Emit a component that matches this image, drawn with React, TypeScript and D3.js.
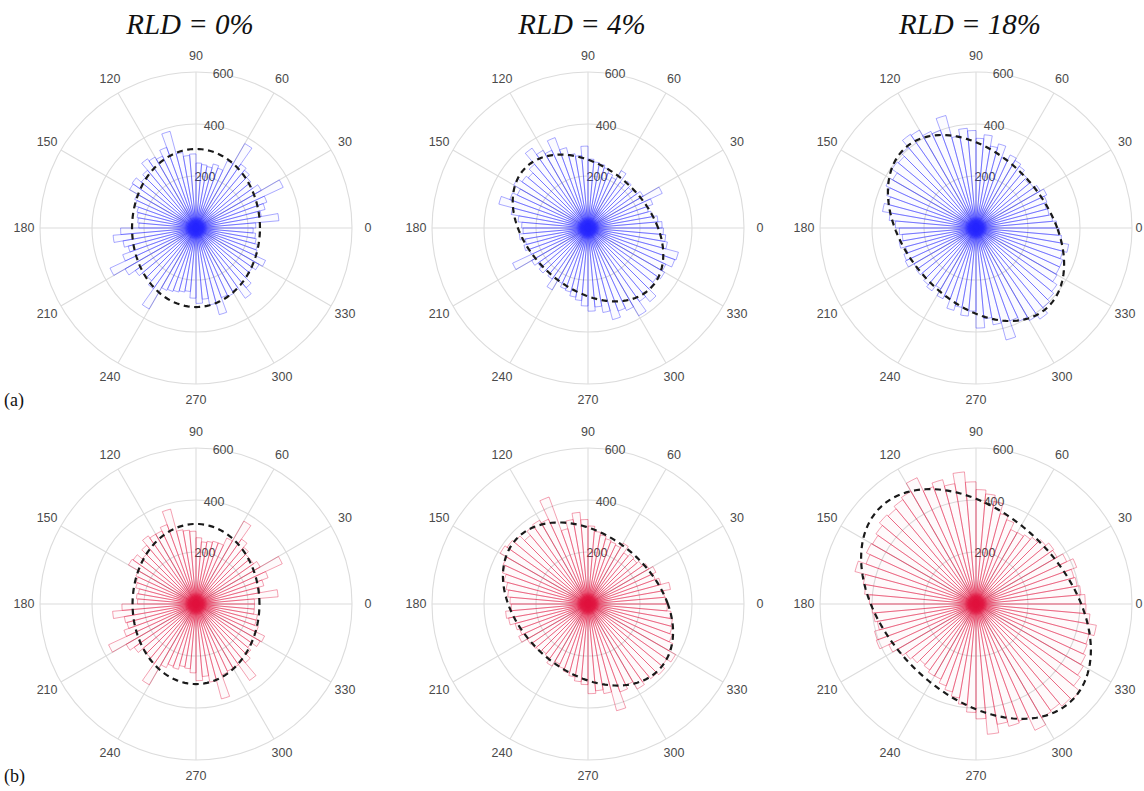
import React from "react";
import * as d3 from "d3";

const thetaTicks = [0, 30, 60, 90, 120, 150, 180, 210, 240, 270, 300, 330];
const rTicks = [0, 200, 400, 600];
const titles = ["RLD = 0%", "RLD = 4%", "RLD = 18%"];
const rowLabels = ["(a)", "(b)"];

// 72 bins of 5 degrees, bin i covers [5i, 5i+5] degrees (counter-clockwise from east)
const blueRLD0 = [230, 320, 255, 275, 290, 370, 290, 265, 275, 290, 300, 375, 285, 245, 255, 240, 245, 250,
  285, 280, 295, 385, 330, 305, 315, 325, 290, 275, 300, 295, 260, 250, 235, 230, 225, 220,
  290, 320, 285, 270, 300, 365, 315, 285, 270, 265, 285, 360, 265, 260, 255, 250, 245, 270,
  290, 275, 300, 345, 285, 290, 280, 330, 300, 270, 265, 280, 295, 250, 245, 235, 230, 220];
const blueRLD4 = [285, 270, 250, 240, 265, 315, 245, 230, 220, 235, 215, 255, 215, 225, 240, 250, 255, 265,
  315, 280, 290, 320, 370, 330, 345, 375, 320, 300, 310, 330, 300, 320, 355, 300, 270, 255,
  250, 265, 245, 255, 240, 320, 250, 235, 245, 230, 240, 275, 235, 250, 255, 270, 280, 300,
  320, 305, 330, 365, 340, 350, 390, 345, 370, 330, 325, 340, 330, 355, 360, 310, 300, 290];
const blueRLD18 = [310, 295, 285, 280, 290, 300, 285, 270, 265, 275, 290, 300, 310, 290, 335, 320, 360, 345,
  375, 385, 360, 448, 400, 410, 435, 440, 405, 390, 395, 370, 382, 365, 350, 365, 335, 310,
  295, 285, 300, 280, 295, 300, 275, 280, 270, 285, 295, 270, 300, 290, 328, 310, 340, 320,
  385, 350, 378, 446, 380, 395, 411, 428, 400, 390, 380, 360, 355, 355, 345, 362, 330, 320];
const redRLD0 = [225, 317, 250, 270, 295, 366, 285, 270, 270, 285, 305, 368, 280, 250, 250, 245, 240, 255,
  280, 285, 290, 378, 325, 310, 310, 320, 295, 270, 295, 300, 255, 245, 240, 225, 230, 225,
  285, 322, 280, 275, 295, 371, 310, 290, 265, 270, 280, 359, 270, 255, 260, 245, 250, 265,
  295, 280, 305, 378, 290, 285, 285, 359, 295, 275, 260, 285, 291, 255, 240, 240, 225, 225];
const redRLD4 = [300, 295, 322, 290, 275, 288, 270, 255, 245, 250, 240, 270, 250, 255, 260, 270, 280, 300,
  325, 354, 330, 300, 438, 360, 372, 365, 345, 370, 380, 390, 360, 350, 335, 320, 310, 300,
  295, 318, 310, 290, 280, 294, 270, 265, 260, 250, 255, 276, 255, 265, 275, 285, 300, 310,
  345, 335, 350, 425, 360, 345, 378, 365, 375, 385, 370, 389, 360, 345, 335, 330, 320, 305];
const redRLD18 = [420, 405, 395, 390, 412, 385, 360, 365, 350, 335, 325, 318, 316, 345, 360, 400, 425, 440,
  470, 510, 470, 495, 480, 536, 500, 490, 478, 485, 470, 460, 465, 450, 482, 440, 430, 410,
  400, 395, 385, 404, 408, 370, 345, 330, 320, 304, 310, 320, 319, 335, 350, 367, 390, 417,
  442, 503, 470, 487, 480, 536, 505, 500, 513, 521, 490, 477, 465, 455, 450, 470, 440, 423];

// fitted ellipses (data units), orientation in degrees
const ellipseMajor = [304, 334, 411, 308, 372, 523];
const ellipseMinor = [246, 228, 272, 244, 259, 342];
const ellipseAngle = [90, 137, 131, 90, 138.5, 135];

const seriesList = [blueRLD0, blueRLD4, blueRLD18, redRLD0, redRLD4, redRLD18];
const colX = [196, 588, 976];
const rowY = [228, 604];

const BLUE = "#2323ff";
const RED = "#e0103c";
const W = 1144;

function Panel({ cx, cy, values, color, idx }: any) {
  const R = 156;
  const r = d3.scaleLinear().domain([0, 600]).range([0, R]);
  const binW = 360 / values.length;
  const toRad = (deg: number) => (deg * Math.PI) / 180;
  const arc = d3.arc<any>()
    .innerRadius(0)
    .outerRadius((d: any) => r(d.v))
    .startAngle((d: any) => toRad(90 - d.t1))
    .endAngle((d: any) => toRad(90 - d.t0));
  const bins = values.map((v: number, i: number) => ({ v, t0: i * binW, t1: (i + 1) * binW }));

  const a = ellipseMajor[idx], b = ellipseMinor[idx], phi = ellipseAngle[idx];
  const angles = d3.range(0, 360, 2);
  const ellPts = angles.map((t: number) => {
    const d = toRad(t - phi);
    const rr = 1 / Math.sqrt((Math.cos(d) ** 2) / (a * a) + (Math.sin(d) ** 2) / (b * b));
    return { t, rr };
  });
  const ellLine = d3.lineRadial<any>()
    .angle((d: any) => toRad(90 - d.t))
    .radius((d: any) => r(d.rr))
    .curve(d3.curveLinearClosed);

  const gridCol = "#dcdcdc";
  const labelR = 172;
  const gid = `haze${idx}`;
  return (
    <g transform={`translate(${cx},${cy})`}>
      <defs>
        <radialGradient id={gid}>
          <stop offset="0%" stopColor={color} stopOpacity={0.95} />
          <stop offset="30%" stopColor={color} stopOpacity={0.85} />
          <stop offset="50%" stopColor={color} stopOpacity={0.3} />
          <stop offset="100%" stopColor={color} stopOpacity={0} />
        </radialGradient>
      </defs>
      {rTicks.filter((t) => t > 0).map((t) => (
        <circle key={t} r={r(t)} fill="none" stroke={gridCol} strokeWidth={1.1} />
      ))}
      {thetaTicks.map((t) => (
        <line key={t} x1={0} y1={0} x2={R * Math.cos(toRad(t))} y2={-R * Math.sin(toRad(t))}
          stroke={gridCol} strokeWidth={1.1} />
      ))}
      {rTicks.map((t) => (
        <text key={t} x={r(t) * Math.cos(toRad(80))} y={-r(t) * Math.sin(toRad(80))}
          textAnchor="middle" dominantBaseline="central" fontSize={12.5}
          fontFamily="Liberation Sans, Arial, sans-serif" fill="#4a4a4a">{t}</text>
      ))}
      {bins.map((d: any, i: number) => (
        <path key={i} d={arc(d) as string} fill={color} fillOpacity={0.02}
          stroke={color} strokeWidth={0.65} strokeOpacity={0.6} />
      ))}
      <circle r={24} fill={`url(#${gid})`} />
      <path d={ellLine(ellPts) as string} fill="none" stroke="#1a1a1a" strokeWidth={2.2}
        strokeDasharray="6,4.5" />
      {thetaTicks.map((t) => {
        let x = labelR * Math.cos(toRad(t));
        if (cx + x > W - 5) x = W - 5 - cx;
        return (
          <text key={t} x={x} y={-labelR * Math.sin(toRad(t))}
            textAnchor="middle" dominantBaseline="central" fontSize={12.5}
            fontFamily="Liberation Sans, Arial, sans-serif" fill="#4a4a4a">{t}</text>
        );
      })}
    </g>
  );
}

export default function App() {
  return (
    <svg width={W} height={791} style={{ position: "absolute", left: 0, top: 0, background: "#fff" }}>
      <rect x={0} y={0} width={W} height={791} fill="#fff" />
      {titles.map((t, i) => (
        <text key={t} x={colX[i] - 6} y={34} textAnchor="middle" fontSize={29} fontStyle="italic"
          fontFamily="Liberation Serif, Times New Roman, serif" fill="#111">{t}</text>
      ))}
      {rowLabels.map((t, i) => (
        <text key={t} x={4} y={rowY[i] + 178} fontSize={18}
          fontFamily="Liberation Serif, Times New Roman, serif" fill="#111">{t}</text>
      ))}
      {seriesList.map((vals, k) => (
        <Panel key={k} idx={k} cx={colX[k % 3]} cy={rowY[Math.floor(k / 3)]} values={vals}
          color={k < 3 ? BLUE : RED} />
      ))}
    </svg>
  );
}
